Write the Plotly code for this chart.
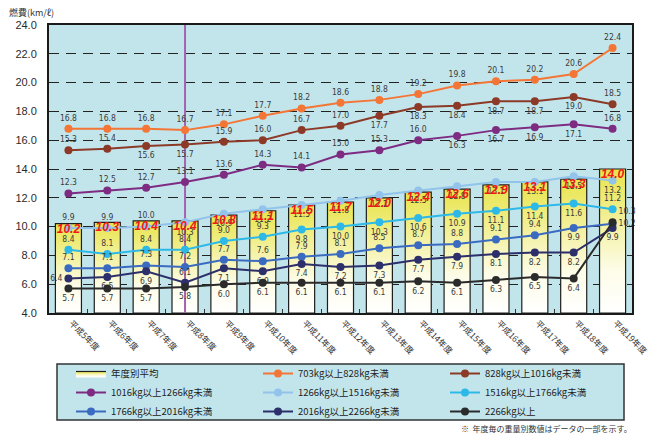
import plotly.graph_objects as go

# ---- data -------------------------------------------------------------
YEARS = ['平成5年度', '平成6年度', '平成7年度', '平成8年度', '平成9年度',
         '平成10年度', '平成11年度', '平成12年度', '平成13年度', '平成14年度',
         '平成15年度', '平成16年度', '平成17年度', '平成18年度', '平成19年度']

AVERAGE = [10.2, 10.3, 10.4, 10.4, 10.8, 11.1, 11.5, 11.7, 12.0, 12.4, 12.6, 12.9, 13.1, 13.3, 14.0]

W703 = [16.8, 16.8, 16.8, 16.7, 17.1, 17.7, 18.2, 18.6, 18.8, 19.2, 19.8, 20.1, 20.2, 20.6, 22.4]
W828 = [15.3, 15.4, 15.6, 15.7, 15.9, 16.0, 16.7, 17.0, 17.7, 18.3, 18.4, 18.7, 18.7, 19.0, 18.5]
W1016 = [12.3, 12.5, 12.7, 13.1, 13.6, 14.3, 14.1, 15.0, 15.3, 16.0, 16.3, 16.7, 16.9, 17.1, 16.8]
W1266 = [9.9, 9.9, 10.0, 10.3, 10.9, 11.2, 11.5, 11.8, 12.2, 12.5, 12.8, 13.1, 13.1, 13.5, 13.2]
W1516 = [8.4, 8.1, 8.4, 8.4, 9.0, 9.3, 9.8, 10.0, 10.3, 10.6, 10.9, 11.1, 11.4, 11.6, 11.2]
W1766 = [7.1, 7.1, 7.3, 7.2, 7.7, 7.6, 7.9, 8.1, 8.5, 8.7, 8.8, 9.1, 9.4, 9.9, 10.2]
W2016 = [6.4, 6.5, 6.9, 6.1, 7.1, 6.9, 7.4, 7.2, 7.3, 7.7, 7.9, 8.1, 8.2, 8.2, 9.9]
W2266 = [5.7, 5.7, 5.7, 5.8, 6.0, 6.1, 6.1, 6.1, 6.1, 6.2, 6.1, 6.3, 6.5, 6.4, 10.3]

AVERAGE_NAME = '年度別平均'
SERIES_NAMES = ['703kg以上828kg未満', '828kg以上1016kg未満', '1016kg以上1266kg未満',
                '1266kg以上1516kg未満', '1516kg以上1766kg未満', '1766kg以上2016kg未満',
                '2016kg以上2266kg未満', '2266kg以上']
SERIES_VALUES = [W703, W828, W1016, W1266, W1516, W1766, W2016, W2266]

MARKED_YEAR = '平成8年度'
Y_RANGE = [4, 24]
Y_TITLE = '燃費(km/ℓ)'
NOTE = '※  年度毎の重量別数値はデータの一部を示す。'

# ---- styles -----------------------------------------------------------
W, H = 649, 435
ML, MR, MT, MB = 49, 17, 25, 122
PW, PH = W - ML - MR, H - MT - MB

SERIES_COLORS = ['#F47636', '#8C3A27', '#7D2C82', '#92C3EA',
                 '#2DB9E8', '#3B6BC0', '#2C2F6A', '#2B2B2B']

T, B = 'top center', 'bottom center'
LABEL_POS = [
    [T] * 15,
    [T, T, B, B, T, T, T, T, B, B, B, B, B, B, T],
    [T] * 10 + [B, B, B, B, T],
    [T, T, T] + [B] * 12,
    [T, T, T, T, T, T, B, B, B, B, B, B, B, B, T],
    [T] * 13 + [B, 'middle right'],
    ['middle left', B, B, T] + [B] * 11,
    [B] * 14 + ['top right'],
]

NUM_FONT = 'Liberation Sans Narrow, Arial Narrow, DejaVu Sans Condensed, sans-serif'
JP_FONT = 'Noto Sans CJK JP, sans-serif'
PLOT_BG = '#C2E5EC'


def px_x(px):
    return (px - ML) / PW


def px_y(py):
    return (H - MB - py) / PH


n = len(YEARS)
idx = list(range(n))
HALF = 0.335

fig = go.Figure()

# yearly average as gradient-filled columns
for i, v in enumerate(AVERAGE):
    fig.add_trace(go.Scatter(
        x=[i - HALF, i + HALF, i + HALF, i - HALF, i - HALF],
        y=[Y_RANGE[0], Y_RANGE[0], v, v, Y_RANGE[0]],
        mode='lines', fill='toself',
        fillgradient=dict(type='vertical', start=Y_RANGE[0], stop=v,
                          colorscale=[[0, '#FFFFFF'], [0.3, '#FDFCE8'], [1, '#E8E44A']]),
        line=dict(color='#1E1E1E', width=1.2),
        name=AVERAGE_NAME, showlegend=(i == 0), hoverinfo='skip'))

# vertical marker at the highlighted year
m = YEARS.index(MARKED_YEAR)
fig.add_trace(go.Scatter(x=[m, m], y=Y_RANGE, mode='lines',
                         line=dict(color='#A563AE', width=2),
                         showlegend=False, hoverinfo='skip'))

for name, vals, color, pos in zip(SERIES_NAMES, SERIES_VALUES, SERIES_COLORS, LABEL_POS):
    fig.add_trace(go.Scatter(
        x=idx, y=vals, name=name, mode='lines+markers+text',
        line=dict(color=color, width=2),
        marker=dict(color=color, size=8),
        text=[f'{v:.1f}' for v in vals], textposition=pos, cliponaxis=False,
        textfont=dict(family=NUM_FONT, size=8.5, color='#3A3A3A')))

# average value labels
fig.add_trace(go.Scatter(
    x=idx, y=AVERAGE, mode='text', text=[f'{v:.1f}' for v in AVERAGE],
    textposition='bottom center',
    textfont=dict(family='Liberation Sans, Arial, sans-serif', size=12,
                  color='#F01818', weight='bold', style='italic'),
    showlegend=False, hoverinfo='skip'))

fig.update_layout(
    width=W, height=H,
    margin=dict(l=ML, r=MR, t=MT, b=MB, autoexpand=False),
    paper_bgcolor='white', plot_bgcolor=PLOT_BG,
    font=dict(family=JP_FONT, size=10, color='#333'),
    xaxis=dict(
        range=[-0.5, n - 0.5], tickmode='array', tickvals=idx, ticktext=YEARS,
        tickangle=45, ticks='', showgrid=False, zeroline=False,
        ticklabelshift=3, ticklabeloverflow='allow',
        showline=True, mirror=True, linecolor='#1A1A1A', linewidth=2,
        tickfont=dict(family=JP_FONT, size=8.5, color='#333'),
        minor=dict(tickmode='array', tickvals=[i + 0.5 for i in range(n - 1)],
                   ticks='inside', ticklen=4, tickwidth=1, tickcolor='#333',
                   showgrid=False)),
    yaxis=dict(
        range=Y_RANGE, dtick=2, tickformat='.1f',
        showgrid=True, gridcolor='#222', gridwidth=1.3, griddash='10px,7px',
        zeroline=False, showline=True, mirror=True, linecolor='#1A1A1A', linewidth=2,
        ticks='', ticklabelstandoff=8,
        tickfont=dict(family='Liberation Sans, Arial, sans-serif', size=11, color='#2B2B2B')),
    legend=dict(orientation='h', x=px_x(71), xanchor='left', y=px_y(359), yanchor='top',
                bgcolor='rgba(0,0,0,0)', borderwidth=0, entrywidth=142, itemwidth=30,
                traceorder='normal', font=dict(family=JP_FONT, size=9.5, color='#222')),
    shapes=[dict(type='rect', xref='paper', yref='paper',
                 x0=px_x(57), x1=px_x(624), y0=px_y(364), y1=px_y(420),
                 fillcolor=PLOT_BG, line=dict(color='#333', width=1.5), layer='below')],
    annotations=[
        dict(text=Y_TITLE, xref='paper', yref='paper', x=px_x(7), y=px_y(12),
             xanchor='left', yanchor='middle', showarrow=False,
             font=dict(family=JP_FONT, size=9, color='#333')),
        dict(text=NOTE, xref='paper', yref='paper', x=px_x(634), y=px_y(428),
             xanchor='right', yanchor='middle', showarrow=False,
             font=dict(family=JP_FONT, size=8, color='#333')),
    ],
)

fig.write_html('out.html')
